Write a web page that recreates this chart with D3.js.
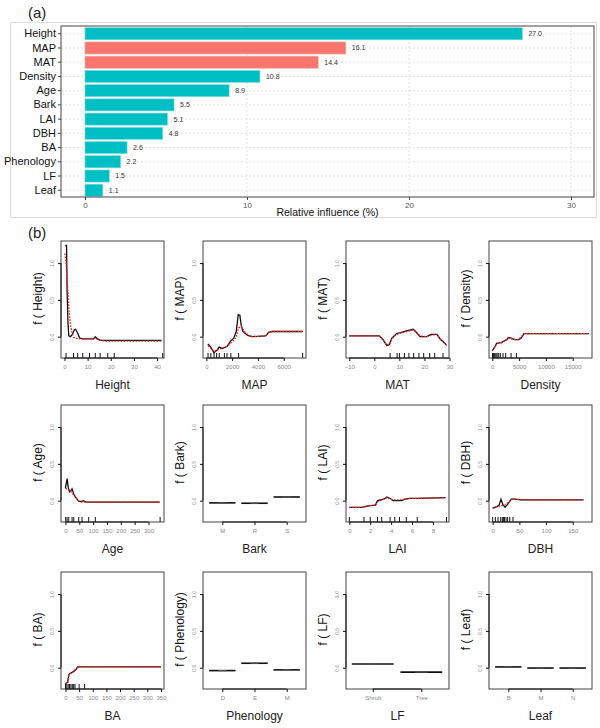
<!DOCTYPE html>
<html>
<head>
<meta charset="utf-8">
<script src="https://cdn.jsdelivr.net/npm/d3@7"></script>
<style>
  body { margin: 0; background: #fff; }
  text { font-family: "Liberation Sans", Arial, sans-serif; }
</style>
</head>
<body>
<div id="chart"></div>
<script>
// ---------- panel (a) data ----------
const features = ["Height", "MAP", "MAT", "Density", "Age", "Bark", "LAI", "DBH", "BA", "Phenology", "LF", "Leaf"];
const influence = [27.0, 16.1, 14.4, 10.8, 8.9, 5.5, 5.1, 4.8, 2.6, 2.2, 1.5, 1.1];
const group = ["plant", "climate", "climate", "plant", "plant", "plant", "plant", "plant", "plant", "plant", "plant", "plant"];
const influenceTicks = [0, 10, 20, 30];

// ---------- panel (b) data: [x, f(x)] ----------
const heightFit = [[0.4, 1.23], [0.9, 1.24], [1.15, 0.6], [1.5, 0.2], [1.85, 0.01], [2.6, 0.0], [3.4, 0.03], [4.2, 0.09], [4.8, 0.1], [5.5, 0.06], [6.6, -0.02], [8, -0.03], [10, -0.03], [12.6, -0.03], [13.3, 0.0], [14.3, -0.03], [15.5, -0.05], [20, -0.05], [30, -0.05], [42, -0.05]];
const heightSmooth = [[0.2, 1.13], [0.7, 1.0], [1.15, 0.77], [1.85, 0.41], [2.6, 0.16], [3.3, 0.05], [4, -0.01], [5, -0.02], [6.2, -0.03], [10, -0.03], [13, -0.02], [15.5, -0.05], [18, -0.06], [30, -0.06], [42, -0.06]];
const heightRug = [0.7, 3.9, 5.7, 7.9, 10.8, 13.3, 15.4, 18.7, 21.5, 42.4];
const heightTicks = [0, 10, 20, 30, 40];

const mapFit = [[120, -0.1], [330, -0.14], [590, -0.22], [850, -0.18], [980, -0.14], [1240, -0.16], [1620, -0.13], [1880, -0.06], [2130, -0.02], [2320, 0.07], [2470, 0.3], [2600, 0.29], [2700, 0.16], [2830, 0.07], [3170, 0.02], [3560, 0.0], [4590, 0.01], [4840, 0.06], [5100, 0.07], [7500, 0.07]];
const mapSmooth = [[120, -0.12], [590, -0.2], [1000, -0.17], [1620, -0.13], [2000, -0.07], [2300, -0.01], [2500, 0.12], [2700, 0.14], [3000, 0.06], [3400, 0.0], [4590, 0.01], [4840, 0.06], [5100, 0.07], [7500, 0.07]];
const mapRug = [130, 350, 600, 800, 1000, 1400, 1600, 1900, 2500, 7470];
const mapTicks = [0, 2000, 4000, 6000];

const matFit = [[-10, 0.01], [2, 0.01], [3.5, -0.04], [5, -0.12], [6, -0.11], [7, -0.02], [8.8, 0.04], [12.8, 0.08], [15.5, 0.1], [16.5, 0.07], [18.2, 0.0], [21, 0.0], [22.5, 0.03], [25, 0.03], [26.4, -0.04], [27.5, -0.07], [28.7, -0.11]];
const matSmooth = [[-10, 0.01], [2, 0.01], [3.5, -0.05], [5, -0.11], [6, -0.1], [7, -0.03], [8.8, 0.03], [12.8, 0.07], [15.5, 0.09], [16.5, 0.07], [18.2, 0.01], [21, 0.0], [22.5, 0.02], [25, 0.03], [26.4, -0.03], [27.5, -0.07], [28.9, -0.12]];
const matRug = [6.3, 9.1, 10, 12, 13.8, 15.7, 17.8, 19.7, 22.1, 24.1, 27.4];
const matTicks = [-10, 0, 10, 20, 30];

const densityFit = [[0, -0.19], [400, -0.15], [800, -0.09], [1700, -0.08], [2700, -0.04], [3000, -0.01], [3500, -0.02], [4200, -0.04], [4900, -0.04], [5400, -0.02], [5900, 0.04], [18000, 0.04]];
const densitySmooth = [[0, -0.19], [800, -0.1], [1700, -0.08], [2700, -0.04], [3000, -0.02], [4200, -0.04], [4900, -0.04], [5900, 0.04], [18000, 0.04]];
const densityRug = [50, 200, 350, 500, 700, 900, 1200, 1500, 2000, 2500, 3500, 4500];
const densityTicks = [0, 5000, 10000, 15000];

const ageFit = [[0, 0.17], [6, 0.3], [10, 0.18], [15, 0.12], [20, 0.14], [24, 0.16], [30, 0.09], [36, 0.05], [48, -0.01], [60, -0.01], [65, 0.0], [75, -0.02], [340, -0.02]];
const ageSmooth = [[0, 0.17], [15, 0.14], [25, 0.1], [40, 0.03], [50, -0.01], [60, -0.02], [340, -0.02]];
const ageRug = [1, 6, 12, 24, 30, 48, 60, 84, 108, 342];
const ageTicks = [0, 50, 100, 150, 200, 250, 300];

const barkLevels = ["M", "R", "S"];
const barkValues = [-0.03, -0.035, 0.05];

const laiFit = [[0, -0.09], [1.2, -0.09], [1.8, -0.07], [2.5, -0.06], [2.7, 0.0], [3.3, 0.02], [3.6, 0.05], [3.9, 0.03], [4.2, 0.0], [5, 0.0], [5.3, 0.02], [5.8, 0.03], [6.5, 0.03], [9.2, 0.04]];
const laiSmooth = [[0, -0.09], [1.2, -0.09], [1.8, -0.07], [2.5, -0.06], [2.8, 0.0], [3.3, 0.02], [3.6, 0.04], [4.2, 0.01], [5, 0.01], [5.8, 0.03], [9.2, 0.04]];
const laiRug = [0, 1.4, 2, 2.7, 3.1, 3.9, 4.35, 4.8, 5.45, 6.5, 9.3];
const laiTicks = [0, 2, 4, 6, 8];

const dbhFit = [[0, -0.1], [8, -0.08], [12, -0.06], [15.5, 0.02], [19, -0.05], [23, -0.09], [28, -0.05], [35, 0.02], [40, 0.02], [55, 0.01], [170, 0.01]];
const dbhSmooth = [[0, -0.1], [10, -0.08], [15, -0.07], [23, -0.06], [30, -0.02], [35, 0.02], [40, 0.02], [55, 0.01], [170, 0.01]];
const dbhRug = [0, 5, 10, 15, 18, 20, 22, 25, 28, 32, 38];
const dbhTicks = [0, 50, 100, 150];

const baFit = [[0, -0.22], [8, -0.2], [12, -0.1], [15, -0.08], [22, -0.07], [30, -0.05], [38, -0.03], [45, 0.01], [70, 0.01], [350, 0.01]];
const baSmooth = [[0, -0.23], [8, -0.2], [12, -0.11], [15, -0.08], [22, -0.07], [30, -0.05], [38, -0.02], [45, 0.01], [70, 0.015], [350, 0.01]];
const baRug = [0, 5, 10, 15, 20, 25, 30, 35, 50, 70];
const baTicks = [0, 50, 100, 150, 200, 250, 300, 350];

const phenologyLevels = ["D", "E", "M"];
const phenologyValues = [-0.04, 0.06, -0.03];

const lfLevels = ["Shrub", "Tree"];
const lfValues = [0.05, -0.06];

const leafLevels = ["B", "M", "N"];
const leafValues = [0.01, -0.005, -0.005];

const yTicks = [0, 0.5, 1.0];

// ---------- canvas ----------
const width = 600, height = 728;
const svg = d3.select("#chart").append("svg")
    .attr("width", width)
    .attr("height", height);

svg.append("rect")
    .attr("width", width)
    .attr("height", height)
    .attr("fill", "#fff");

// ---------- panel (a) ----------
svg.append("text")
    .attr("x", 28)
    .attr("y", 18)
    .attr("font-size", "15px")
    .attr("fill", "#222")
    .text("(a)");

svg.append("rect")
    .attr("x", 10.5)
    .attr("y", 22.5)
    .attr("width", 586)
    .attr("height", 195)
    .attr("fill", "none")
    .attr("stroke", "#dcdcdc");

const aLeft = 61, aRight = 594, aTop = 26, aBottom = 197;

const xInf = d3.scaleLinear().domain([-1.48, 31.42]).range([aLeft, aRight]);
const yFeat = d3.scaleBand().domain(features).range([aTop + 1, aBottom]).paddingInner(0.15).paddingOuter(0.05);

// grid
svg.append("g").selectAll("line")
    .data(features)
    .join("line")
    .attr("x1", aLeft).attr("x2", aRight)
    .attr("y1", d => yFeat(d) + yFeat.bandwidth() / 2)
    .attr("y2", d => yFeat(d) + yFeat.bandwidth() / 2)
    .attr("stroke", "#e2e2e2")
    .attr("stroke-dasharray", "2,2");

svg.append("g").selectAll("line")
    .data(influenceTicks)
    .join("line")
    .attr("x1", d => xInf(d)).attr("x2", d => xInf(d))
    .attr("y1", aTop).attr("y2", aBottom)
    .attr("stroke", "#e2e2e2")
    .attr("stroke-dasharray", "2,2");

// bars
svg.append("g").selectAll("rect")
    .data(features)
    .join("rect")
    .attr("x", xInf(0))
    .attr("y", d => yFeat(d))
    .attr("width", (d, i) => xInf(influence[i]) - xInf(0))
    .attr("height", yFeat.bandwidth())
    .attr("fill", (d, i) => group[i] === "climate" ? "#F8766D" : "#00BFC4")
    .attr("stroke", (d, i) => group[i] === "climate" ? "#fbb0aa" : "#7fdfe1")
    .attr("stroke-width", 0.6);

// value labels
svg.append("g").selectAll("text")
    .data(features)
    .join("text")
    .attr("x", (d, i) => xInf(influence[i]) + 6)
    .attr("y", d => yFeat(d) + yFeat.bandwidth() / 2)
    .attr("dy", "0.35em")
    .attr("font-size", "7px")
    .attr("fill", "#333")
    .text((d, i) => influence[i].toFixed(1));

// plot border
svg.append("rect")
    .attr("x", aLeft).attr("y", aTop)
    .attr("width", aRight - aLeft).attr("height", aBottom - aTop)
    .attr("fill", "none")
    .attr("stroke", "#444")
    .attr("stroke-width", 1);

// y axis (categories)
const yAxisA = svg.append("g")
    .attr("transform", `translate(${aLeft},0)`)
    .call(d3.axisLeft(yFeat).tickSize(3).tickPadding(2));
yAxisA.select(".domain").remove();
yAxisA.selectAll("line").attr("stroke", "#444");
yAxisA.selectAll("text")
    .attr("font-size", "11px")
    .attr("fill", "#111")
    .attr("font-family", "Liberation Sans, Arial, sans-serif");

// x axis
const xAxisA = svg.append("g")
    .attr("transform", `translate(0,${aBottom})`)
    .call(d3.axisBottom(xInf).tickValues(influenceTicks).tickSize(3).tickPadding(2));
xAxisA.select(".domain").remove();
xAxisA.selectAll("line").attr("stroke", "#444");
xAxisA.selectAll("text")
    .attr("font-size", "8px")
    .attr("fill", "#555")
    .attr("font-family", "Liberation Sans, Arial, sans-serif");

svg.append("text")
    .attr("x", (aLeft + aRight) / 2)
    .attr("y", 216)
    .attr("text-anchor", "middle")
    .attr("font-size", "10.5px")
    .attr("fill", "#111")
    .text("Relative influence (%)");

// ---------- panel (b) ----------
svg.append("text")
    .attr("x", 28)
    .attr("y", 238)
    .attr("font-size", "15px")
    .attr("fill", "#222")
    .text("(b)");

const colLeft = [61, 203, 346, 489];
const rowTop = [241, 405, 572];
const boxW = 103, boxH = 117;

const panels = [
    { name: "Height", fit: heightFit, smooth: heightSmooth, rug: heightRug, ticks: heightTicks, domain: [-1.5, 43] },
    { name: "MAP", fit: mapFit, smooth: mapSmooth, rug: mapRug, ticks: mapTicks, domain: [-260, 7730] },
    { name: "MAT", fit: matFit, smooth: matSmooth, rug: matRug, ticks: matTicks, domain: [-11.3, 29.8] },
    { name: "Density", fit: densityFit, smooth: densitySmooth, rug: densityRug, ticks: densityTicks, domain: [-615, 18600] },
    { name: "Age", fit: ageFit, smooth: ageSmooth, rug: ageRug, ticks: ageTicks, domain: [-16, 356] },
    { name: "Bark", levels: barkLevels, values: barkValues },
    { name: "LAI", fit: laiFit, smooth: laiSmooth, rug: laiRug, ticks: laiTicks, domain: [-0.32, 9.54] },
    { name: "DBH", fit: dbhFit, smooth: dbhSmooth, rug: dbhRug, ticks: dbhTicks, domain: [-6.9, 186] },
    { name: "BA", fit: baFit, smooth: baSmooth, rug: baRug, ticks: baTicks, domain: [-16.4, 361] },
    { name: "Phenology", levels: phenologyLevels, values: phenologyValues },
    { name: "LF", levels: lfLevels, values: lfValues },
    { name: "Leaf", levels: leafLevels, values: leafValues }
];

panels.forEach(function (p, i) {
    const x0 = colLeft[i % 4], y0 = rowTop[Math.floor(i / 4)];
    const g = svg.append("g").attr("transform", `translate(${x0},${y0})`);

    const y = d3.scaleLinear().domain([-0.29, 1.3]).range([boxH, 0]);
    let x;
    if (p.levels) {
        const k = p.levels.length;
        x = d3.scaleLinear().domain(k === 2 ? [0.45, 2.57] : [0.4, 3.6]).range([0, boxW]);
    } else {
        x = d3.scaleLinear().domain(p.domain).range([0, boxW]);
    }

    if (p.levels) {
        const half = p.levels.length === 2 ? 0.43 : 0.41;
        g.selectAll("line.seg")
            .data(p.levels)
            .join("line")
            .attr("class", "seg")
            .attr("x1", (d, j) => x(j + 1 - half))
            .attr("x2", (d, j) => x(j + 1 + half))
            .attr("y1", (d, j) => y(p.values[j]))
            .attr("y2", (d, j) => y(p.values[j]))
            .attr("stroke", "#111")
            .attr("stroke-width", 1.6);
        g.selectAll("line.seg2")
            .data(p.levels)
            .join("line")
            .attr("class", "seg2")
            .attr("x1", (d, j) => x(j + 1 - half * 0.3))
            .attr("x2", (d, j) => x(j + 1 + half * 0.3))
            .attr("y1", (d, j) => y(p.values[j]))
            .attr("y2", (d, j) => y(p.values[j]))
            .attr("stroke", "#555")
            .attr("stroke-width", 1.2);
    } else {
        const line = d3.line().x(d => x(d[0])).y(d => y(d[1]));
        g.append("path")
            .datum(p.fit)
            .attr("d", line)
            .attr("fill", "none")
            .attr("stroke", "#111")
            .attr("stroke-width", 1.3);
        g.append("path")
            .datum(p.smooth)
            .attr("d", line)
            .attr("fill", "none")
            .attr("stroke", "#ff1a1a")
            .attr("stroke-width", 1.3)
            .attr("stroke-dasharray", "1.6,1.4");
        // rug
        g.selectAll("line.rug")
            .data(p.rug)
            .join("line")
            .attr("class", "rug")
            .attr("x1", d => x(d)).attr("x2", d => x(d))
            .attr("y1", boxH).attr("y2", boxH - 5)
            .attr("stroke", "#111")
            .attr("stroke-width", 1);
    }

    // box
    g.append("rect")
        .attr("width", boxW).attr("height", boxH)
        .attr("fill", "none")
        .attr("stroke", "#444")
        .attr("stroke-width", 1);

    // y axis
    const ya = g.append("g").call(d3.axisLeft(y).tickValues(yTicks).tickSize(3).tickPadding(3).tickFormat(d3.format(".1f")));
    ya.select(".domain").attr("stroke", "#111").attr("d", `M0,${y(1.0)}V${y(0)}`);
    ya.selectAll("line").attr("stroke", "#111");
    ya.selectAll("text")
        .attr("font-size", "5px")
        .attr("fill", "#888")
        .attr("font-family", "Liberation Sans, Arial, sans-serif")
        .attr("text-anchor", "middle")
        .attr("dy", 0)
        .attr("transform", function () {
            return `rotate(-90,${-7},0)`;
        })
        .attr("x", -7)
        .attr("y", 0);

    // x axis
    const tickVals = p.levels ? p.levels.map((d, j) => j + 1) : p.ticks;
    const xa = g.append("g")
        .attr("transform", `translate(0,${boxH})`)
        .call(d3.axisBottom(x).tickValues(tickVals).tickSize(3).tickPadding(4)
            .tickFormat(p.levels ? (d => p.levels[d - 1]) : d3.format("d")));
    xa.select(".domain").attr("stroke", "#111")
        .attr("d", `M${x(tickVals[0])},0H${x(tickVals[tickVals.length - 1])}`);
    xa.selectAll("line").attr("stroke", "#111");
    xa.selectAll("text")
        .attr("font-size", "6px")
        .attr("fill", "#888")
        .attr("font-family", "Liberation Sans, Arial, sans-serif");

    // titles
    g.append("text")
        .attr("x", boxW / 2)
        .attr("y", boxH + 31)
        .attr("text-anchor", "middle")
        .attr("font-size", "12px")
        .attr("fill", "#222")
        .text(p.name);

    g.append("text")
        .attr("transform", `translate(-19,${boxH / 2 - 1}) rotate(-90)`)
        .attr("text-anchor", "middle")
        .attr("font-size", "12px")
        .attr("fill", "#111")
        .text("f ( " + p.name + ")");
});
</script>
</body>
</html>
